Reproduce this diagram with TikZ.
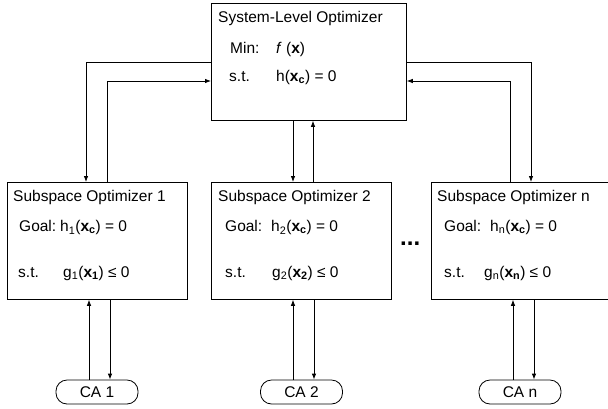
\documentclass[tikz,border=0pt]{standalone}
\usepackage{fontspec}
\setmainfont{Liberation Sans}
\usetikzlibrary{arrows.meta}
\begin{document}
\begin{tikzpicture}[x=1pt,y=-1pt,
  box/.style={draw, line width=0.8pt, inner sep=0pt, anchor=north west},
  sysbox/.style={box, minimum width=195pt, minimum height=117pt},
  subbox/.style={box, minimum width=180pt, minimum height=117pt},
  cabox/.style={draw, line width=0.8pt, rounded corners=11pt, minimum width=82pt, minimum height=24pt, inner sep=0pt},
  txt/.style={anchor=base west, inner sep=0pt},
  arr/.style={line width=0.8pt, -{Latex[length=6pt,width=4.5pt]}},
  font=\fontsize{15.5}{18}\selectfont]
\useasboundingbox (0,0) rectangle (608,408);

% boxes
\node[sysbox] (sys) at (211,3) {};
\node[subbox] (s1) at (7,182) {};
\node[subbox] (s2) at (211,182) {};
\node[subbox] (sn) at (431,182) {};
\node[cabox] (ca1) at (97,392) {CA 1};
\node[cabox] (ca2) at (301.5,392) {CA 2};
\node[cabox] (can) at (520,392) {CA n};

% system texts
\node[txt] (t0) at (218,22) {System-Level Optimizer};
\node[txt] (t0a) at (230,53.5) {Min:};
\node[txt] (t0b) at (276,53.5) {\textit{f} (\textbf{x})};
\node[txt] (t0c) at (229,81.5) {s.t.};
\node[txt] (t0d) at (276,81.5) {h(\textbf{x}\textsubscript{\textbf{c}}) = 0};

% subspace 1
\node[txt] (t1) at (13,201) {Subspace Optimizer 1};
\node[txt] (t1a) at (19,231.5) {Goal:};
\node[txt] (t1b) at (60,231.5) {h\textsubscript{1}(\textbf{x}\textsubscript{\textbf{c}}) = 0};
\node[txt] (t1c) at (18,277) {s.t.};
\node[txt] (t1d) at (63,277) {g\textsubscript{1}(\textbf{x}\textsubscript{\textbf{1}}) ≤ 0};

% subspace 2
\node[txt] (t2) at (218,201) {Subspace Optimizer 2};
\node[txt] (t2a) at (225,231.5) {Goal:};
\node[txt] (t2b) at (271,231.5) {h\textsubscript{2}(\textbf{x}\textsubscript{\textbf{c}}) = 0};
\node[txt] (t2c) at (225,277) {s.t.};
\node[txt] (t2d) at (272,277) {g\textsubscript{2}(\textbf{x}\textsubscript{\textbf{2}}) ≤ 0};

% subspace n
\node[txt] (tn) at (437,201) {Subspace Optimizer n};
\node[txt] (tna) at (444,231.5) {Goal:};
\node[txt] (tnb) at (490,231.5) {h\textsubscript{n}(\textbf{x}\textsubscript{\textbf{c}}) = 0};
\node[txt] (tnc) at (444,277) {s.t.};
\node[txt] (tnd) at (484,277) {g\textsubscript{n}(\textbf{x}\textsubscript{\textbf{n}}) ≤ 0};

% dots
\node[txt, font=\bfseries\fontsize{24}{24}\selectfont] (dots) at (400,245) {...};

% system <-> subspace connectors
\draw[arr] ([yshift=-59pt]sys.north west) -| ([xshift=79pt]s1.north west);
\draw[arr] ([xshift=100pt]s1.north west) |- ([yshift=-78pt]sys.north west);
\draw[arr] ([xshift=82pt]sys.south west) -- ([xshift=82pt]s2.north west);
\draw[arr] ([xshift=102pt]s2.north west) -- ([xshift=102pt]sys.south west);
\draw[arr] ([yshift=-59pt]sys.north east) -| ([xshift=100pt]sn.north west);
\draw[arr] ([xshift=79pt]sn.north west) |- ([yshift=-78pt]sys.north east);

% subspace <-> CA connectors
\draw[arr] ([xshift=82pt]s1.south west |- ca1.north) -- ([xshift=82pt]s1.south west);
\draw[arr] ([xshift=103pt]s1.south west) -- ([xshift=103pt]s1.south west |- ca1.north);
\draw[arr] ([xshift=82pt]s2.south west |- ca2.north) -- ([xshift=82pt]s2.south west);
\draw[arr] ([xshift=103pt]s2.south west) -- ([xshift=103pt]s2.south west |- ca2.north);
\draw[arr] ([xshift=82pt]sn.south west |- can.north) -- ([xshift=82pt]sn.south west);
\draw[arr] ([xshift=103pt]sn.south west) -- ([xshift=103pt]sn.south west |- can.north);
\end{tikzpicture}
\end{document}
